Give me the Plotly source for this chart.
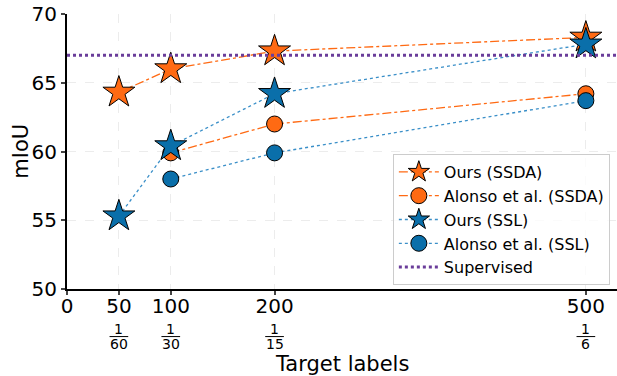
import plotly.graph_objects as go

labels = [50, 100, 200, 500]
fractions = ["60", "30", "15", "6"]
ours_ssda = [64.3, 66.0, 67.3, 68.3]
alonso_ssda_x = [100, 200, 500]
alonso_ssda = [59.9, 62.0, 64.2]
ours_ssl = [55.3, 60.4, 64.2, 67.8]
alonso_ssl_x = [100, 200, 500]
alonso_ssl = [58.0, 59.9, 63.7]
supervised = 67.0
x_range = [0, 530]

ORANGE = "#ff6a13"
BLUE = "#0a6faa"
LBLUE = "#3a8fc8"
PURPLE = "#6a3d9a"
FONT = "DejaVu Sans"

fig = go.Figure()
fig.add_trace(go.Scatter(x=labels, y=ours_ssda, name="Ours (SSDA)", mode="lines+markers",
                         line=dict(color=ORANGE, dash="dashdot", width=1.3),
                         marker=dict(symbol="star", size=24, color=ORANGE, line=dict(color="black", width=1))))
fig.add_trace(go.Scatter(x=alonso_ssda_x, y=alonso_ssda, name="Alonso et al. (SSDA)", mode="lines+markers",
                         line=dict(color=ORANGE, dash="dashdot", width=1.3),
                         marker=dict(symbol="circle", size=16, color=ORANGE, line=dict(color="black", width=1))))
fig.add_trace(go.Scatter(x=labels, y=ours_ssl, name="Ours (SSL)", mode="lines+markers",
                         line=dict(color=LBLUE, dash="dot", width=1.3),
                         marker=dict(symbol="star", size=24, color=BLUE, line=dict(color="black", width=1))))
fig.add_trace(go.Scatter(x=alonso_ssl_x, y=alonso_ssl, name="Alonso et al. (SSL)", mode="lines+markers",
                         line=dict(color=LBLUE, dash="dot", width=1.3),
                         marker=dict(symbol="circle", size=16, color=BLUE, line=dict(color="black", width=1))))
fig.add_trace(go.Scatter(x=x_range, y=[supervised, supervised], name="Supervised", mode="lines",
                         line=dict(color=PURPLE, dash="dot", width=3)))

# fraction labels under ticks
for xv, den in zip(labels, fractions):
    fig.add_annotation(x=xv, y=-0.145, xref="x", yref="paper", text="1", showarrow=False,
                       font=dict(family=FONT, size=14, color="black"), yanchor="middle")
    fig.add_annotation(x=xv, y=-0.200, xref="x", yref="paper", text=den, showarrow=False,
                       font=dict(family=FONT, size=14, color="black"), yanchor="middle")
    fig.add_shape(type="line", xref="x", yref="paper", x0=xv - 9, x1=xv + 9, y0=-0.173, y1=-0.173,
                  line=dict(color="black", width=1))

fig.add_annotation(x=0.5, y=-0.273, xref="paper", yref="paper", text="Target labels", showarrow=False,
                   font=dict(family=FONT, size=21, color="black"), yanchor="middle")
fig.add_annotation(x=-0.085, y=0.5, xref="paper", yref="paper", text="mIoU", showarrow=False,
                   textangle=-90, font=dict(family=FONT, size=21, color="black"), xanchor="center")

fig.update_layout(
    width=617, height=376,
    margin=dict(l=67, r=0, t=14, b=87, autoexpand=False),
    plot_bgcolor="white", paper_bgcolor="white",
    font=dict(family=FONT, size=20, color="black"),
    showlegend=True,
    legend=dict(x=0.987, y=0.491, xanchor="right", yanchor="top",
                bgcolor="rgba(255,255,255,0.8)", bordercolor="#cccccc", borderwidth=1,
                font=dict(family=FONT, size=16), itemwidth=40, tracegroupgap=0),
)
fig.update_xaxes(range=x_range, tickvals=[0] + labels, ticktext=["0"] + [str(v) for v in labels],
                 showline=True, linecolor="black", linewidth=2, ticks="outside", ticklen=4, tickwidth=1.5,
                 showgrid=True, gridcolor="#ececec", griddash="dash", gridwidth=1, zeroline=False,
                 automargin=False, ticklabelstandoff=-6)
fig.update_yaxes(range=[50, 70], tickvals=[50, 55, 60, 65, 70],
                 showline=True, linecolor="black", linewidth=2, ticks="outside", ticklen=4, tickwidth=1.5,
                 showgrid=True, gridcolor="#ececec", griddash="dash", gridwidth=1, zeroline=False,
                 automargin=False)

fig.write_html("out.html")
